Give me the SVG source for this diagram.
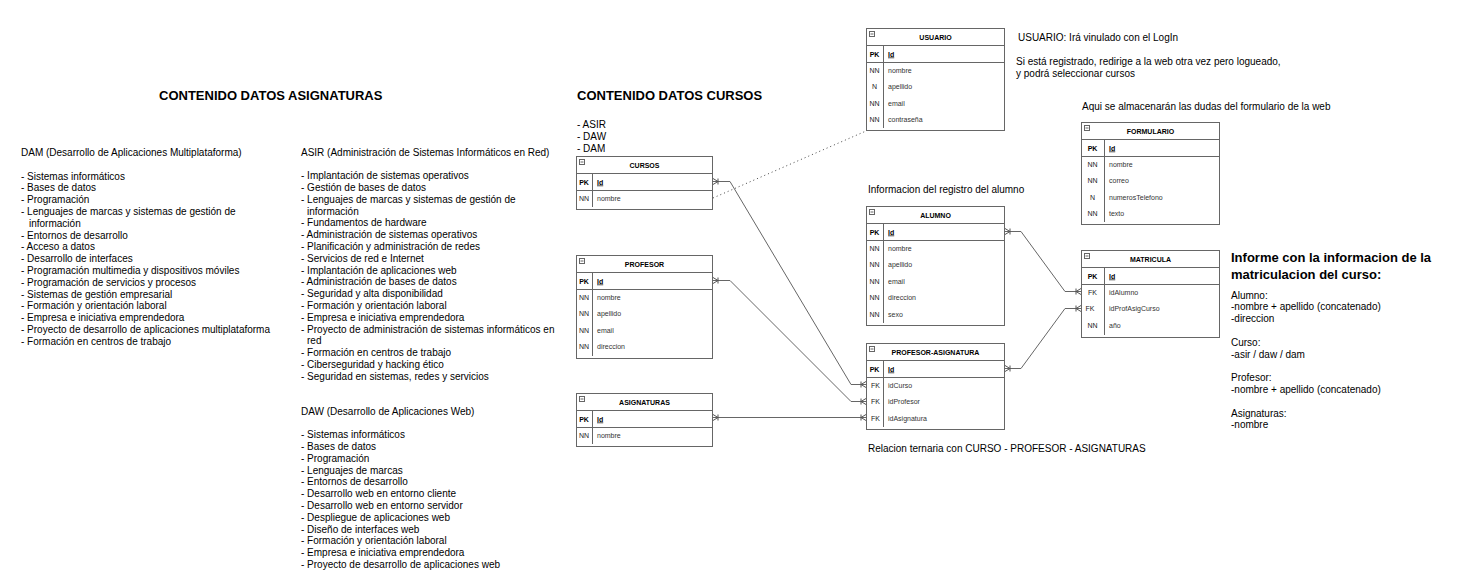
<svg xmlns="http://www.w3.org/2000/svg" width="1466" height="585" viewBox="0 0 1466 585">
<style>
text{font-family:"Liberation Sans",Arial,sans-serif;fill:#000}
.box{fill:#fff;stroke:#666;stroke-width:1}
.ln{stroke:#666;stroke-width:1;fill:none}
.th{font-size:7px;font-weight:bold;text-anchor:middle}
.k{font-size:7px;text-anchor:middle;fill:#222}
.kb{font-size:7px;font-weight:bold;text-anchor:middle}
.f{font-size:7px;fill:#333}
.pk{font-size:7px;font-weight:bold;text-decoration:underline}
.t10{font-size:10px}
.h13{font-size:13px;font-weight:bold}
.con{stroke:#666;stroke-width:1;fill:none;marker-start:url(#er);marker-end:url(#er)}
.dot{stroke:#444;stroke-width:1;fill:none;stroke-dasharray:1 3}
</style>
<defs>
<marker id="er" viewBox="-7 -4 8 8" refX="0" refY="0" markerWidth="8" markerHeight="8" markerUnits="userSpaceOnUse" orient="auto-start-reverse">
<path d="M-5,-3 L-5,3 M-5,0 L0,-3 M-5,0 L0,3" stroke="#555" stroke-width="1" fill="none"/>
</marker>
</defs>

<g id="texts">
<text class="h13" x="159" y="99.5">CONTENIDO DATOS ASIGNATURAS</text>
<text class="h13" x="577" y="99.5">CONTENIDO DATOS CURSOS</text>
<text class="t10"><tspan x="577" y="127.5">- ASIR</tspan><tspan x="577" y="139.5">- DAW</tspan><tspan x="577" y="151.5">- DAM</tspan></text>

<text class="t10">
<tspan x="21" y="156">DAM (Desarrollo de Aplicaciones Multiplataforma)</tspan>
<tspan x="21" y="179.6">- Sistemas informáticos</tspan>
<tspan x="21" y="191.4">- Bases de datos</tspan>
<tspan x="21" y="203.2">- Programación</tspan>
<tspan x="21" y="215">- Lenguajes de marcas y sistemas de gestión de</tspan>
<tspan x="29" y="226.8">información</tspan>
<tspan x="21" y="238.6">- Entornos de desarrollo</tspan>
<tspan x="21" y="250.4">- Acceso a datos</tspan>
<tspan x="21" y="262.2">- Desarrollo de interfaces</tspan>
<tspan x="21" y="274">- Programación multimedia y dispositivos móviles</tspan>
<tspan x="21" y="285.8">- Programación de servicios y procesos</tspan>
<tspan x="21" y="297.6">- Sistemas de gestión empresarial</tspan>
<tspan x="21" y="309.4">- Formación y orientación laboral</tspan>
<tspan x="21" y="321.2">- Empresa e iniciativa emprendedora</tspan>
<tspan x="21" y="333">- Proyecto de desarrollo de aplicaciones multiplataforma</tspan>
<tspan x="21" y="344.8">- Formación en centros de trabajo</tspan>
</text>

<text class="t10">
<tspan x="301" y="155.5">ASIR (Administración de Sistemas Informáticos en Red)</tspan>
<tspan x="301" y="179.1">- Implantación de sistemas operativos</tspan>
<tspan x="301" y="190.9">- Gestión de bases de datos</tspan>
<tspan x="301" y="202.7">- Lenguajes de marcas y sistemas de gestión de</tspan>
<tspan x="307" y="214.5">información</tspan>
<tspan x="301" y="226.3">- Fundamentos de hardware</tspan>
<tspan x="301" y="238.1">- Administración de sistemas operativos</tspan>
<tspan x="301" y="249.9">- Planificación y administración de redes</tspan>
<tspan x="301" y="261.7">- Servicios de red e Internet</tspan>
<tspan x="301" y="273.5">- Implantación de aplicaciones web</tspan>
<tspan x="301" y="285.3">- Administración de bases de datos</tspan>
<tspan x="301" y="297.1">- Seguridad y alta disponibilidad</tspan>
<tspan x="301" y="308.9">- Formación y orientación laboral</tspan>
<tspan x="301" y="320.7">- Empresa e iniciativa emprendedora</tspan>
<tspan x="301" y="332.5">- Proyecto de administración de sistemas informáticos en</tspan>
<tspan x="307" y="344.3">red</tspan>
<tspan x="301" y="356.1">- Formación en centros de trabajo</tspan>
<tspan x="301" y="367.9">- Ciberseguridad y hacking ético</tspan>
<tspan x="301" y="379.7">- Seguridad en sistemas, redes y servicios</tspan>
</text>

<text class="t10">
<tspan x="301" y="414.5">DAW (Desarrollo de Aplicaciones Web)</tspan>
<tspan x="301" y="438.1">- Sistemas informáticos</tspan>
<tspan x="301" y="449.9">- Bases de datos</tspan>
<tspan x="301" y="461.7">- Programación</tspan>
<tspan x="301" y="473.5">- Lenguajes de marcas</tspan>
<tspan x="301" y="485.3">- Entornos de desarrollo</tspan>
<tspan x="301" y="497.1">- Desarrollo web en entorno cliente</tspan>
<tspan x="301" y="508.9">- Desarrollo web en entorno servidor</tspan>
<tspan x="301" y="520.7">- Despliegue de aplicaciones web</tspan>
<tspan x="301" y="532.5">- Diseño de interfaces web</tspan>
<tspan x="301" y="544.3">- Formación y orientación laboral</tspan>
<tspan x="301" y="556.1">- Empresa e iniciativa emprendedora</tspan>
<tspan x="301" y="567.9">- Proyecto de desarrollo de aplicaciones web</tspan>
</text>

<text class="t10" x="1018" y="40.5">USUARIO: Irá vinulado con el LogIn</text>
<text class="t10"><tspan x="1016" y="64.5">Si está registrado, redirige a la web otra vez pero logueado,</tspan><tspan x="1016" y="76.5">y podrá seleccionar cursos</tspan></text>
<text class="t10" x="1082" y="109.5">Aqui se almacenarán las dudas del formulario de la web</text>
<text class="t10" x="868" y="192.5">Informacion del registro del alumno</text>
<text class="t10" x="868" y="451.5">Relacion ternaria con CURSO - PROFESOR - ASIGNATURAS</text>
<text class="h13"><tspan x="1231" y="261.5">Informe con la informacion de la</tspan><tspan x="1231" y="278.5">matriculacion del curso:</tspan></text>
<text class="t10">
<tspan x="1231" y="298.5">Alumno:</tspan>
<tspan x="1231" y="310.3">-nombre + apellido (concatenado)</tspan>
<tspan x="1231" y="322.1">-direccion</tspan>
<tspan x="1231" y="345.7">Curso:</tspan>
<tspan x="1231" y="357.5">-asir / daw / dam</tspan>
<tspan x="1231" y="381.1">Profesor:</tspan>
<tspan x="1231" y="392.9">-nombre + apellido (concatenado)</tspan>
<tspan x="1231" y="416.5">Asignaturas:</tspan>
<tspan x="1231" y="428.3">-nombre</tspan>
</text>
</g>

<g id="connectors">
<path class="dot" d="M713,198 L866,131"/>
<path class="con" d="M713,181.5 H730 L851,384.5 H866"/>
<path class="con" d="M713,280.5 H730 L851,401.5 H866"/>
<path class="con" d="M713,417.5 H866"/>
<path class="con" d="M1005,231.5 H1021 L1065,291.5 H1081"/>
<path class="con" d="M1005,368.5 H1021 L1065,308.5 H1081"/>
</g>

<g id="usuario" transform="translate(866,28)">
<rect class="box" x="0.5" y="0.5" width="138" height="102"/>
<path class="ln" d="M0.5,17.5 H138.5 M0.5,34.5 H138.5 M17.5,17.5 V100"/>
<rect class="box" x="3.5" y="3.5" width="5" height="5"/><path class="ln" d="M4.5,6 H7.5"/>
<text class="th" x="69.5" y="11.5">USUARIO</text>
<text class="kb" x="8.5" y="28.5">PK</text><text class="pk" x="22" y="28.5">Id</text>
<text class="k" x="8.5" y="44.75">NN</text><text class="f" x="22" y="44.75">nombre</text>
<text class="k" x="8.5" y="61.25">N</text><text class="f" x="22" y="61.25">apellido</text>
<text class="k" x="8.5" y="77.75">NN</text><text class="f" x="22" y="77.75">email</text>
<text class="k" x="8.5" y="94.25">NN</text><text class="f" x="22" y="94.25">contraseña</text>
</g>

<g id="cursos" transform="translate(576,156)">
<rect class="box" x="0.5" y="0.5" width="136" height="53"/>
<path class="ln" d="M0.5,17.5 H136.5 M0.5,34.5 H136.5 M16.5,17.5 V51"/>
<rect class="box" x="3.5" y="3.5" width="5" height="5"/><path class="ln" d="M4.5,6 H7.5"/>
<text class="th" x="68.5" y="11.5">CURSOS</text>
<text class="kb" x="8" y="28.5">PK</text><text class="pk" x="21" y="28.5">Id</text>
<text class="k" x="8" y="44.75">NN</text><text class="f" x="21" y="44.75">nombre</text>
</g>

<g id="profesor" transform="translate(576,255)">
<rect class="box" x="0.5" y="0.5" width="136" height="103"/>
<path class="ln" d="M0.5,17.5 H136.5 M0.5,34.5 H136.5 M16.5,17.5 V101"/>
<rect class="box" x="3.5" y="3.5" width="5" height="5"/><path class="ln" d="M4.5,6 H7.5"/>
<text class="th" x="68.5" y="11.5">PROFESOR</text>
<text class="kb" x="8" y="28.5">PK</text><text class="pk" x="21" y="28.5">Id</text>
<text class="k" x="8" y="44.75">NN</text><text class="f" x="21" y="44.75">nombre</text>
<text class="k" x="8" y="61.25">NN</text><text class="f" x="21" y="61.25">apellido</text>
<text class="k" x="8" y="77.75">NN</text><text class="f" x="21" y="77.75">email</text>
<text class="k" x="8" y="94.25">NN</text><text class="f" x="21" y="94.25">direccion</text>
</g>

<g id="asignaturas" transform="translate(576,393)">
<rect class="box" x="0.5" y="0.5" width="136" height="53"/>
<path class="ln" d="M0.5,17.5 H136.5 M0.5,34.5 H136.5 M16.5,17.5 V51"/>
<rect class="box" x="3.5" y="3.5" width="5" height="5"/><path class="ln" d="M4.5,6 H7.5"/>
<text class="th" x="68.5" y="11.5">ASIGNATURAS</text>
<text class="kb" x="8" y="28.5">PK</text><text class="pk" x="21" y="28.5">Id</text>
<text class="k" x="8" y="44.75">NN</text><text class="f" x="21" y="44.75">nombre</text>
</g>

<g id="alumno" transform="translate(866,206)">
<rect class="box" x="0.5" y="0.5" width="138" height="119"/>
<path class="ln" d="M0.5,17.5 H138.5 M0.5,34.5 H138.5 M17.5,17.5 V117"/>
<rect class="box" x="3.5" y="3.5" width="5" height="5"/><path class="ln" d="M4.5,6 H7.5"/>
<text class="th" x="69.5" y="11.5">ALUMNO</text>
<text class="kb" x="8.5" y="28.5">PK</text><text class="pk" x="22" y="28.5">Id</text>
<text class="k" x="8.5" y="44.75">NN</text><text class="f" x="22" y="44.75">nombre</text>
<text class="k" x="8.5" y="61.25">NN</text><text class="f" x="22" y="61.25">apellido</text>
<text class="k" x="8.5" y="77.75">NN</text><text class="f" x="22" y="77.75">email</text>
<text class="k" x="8.5" y="94.25">NN</text><text class="f" x="22" y="94.25">direccion</text>
<text class="k" x="8.5" y="110.75">NN</text><text class="f" x="22" y="110.75">sexo</text>
</g>

<g id="profesor-asignatura" transform="translate(866,343)">
<rect class="box" x="0.5" y="0.5" width="138" height="86"/>
<path class="ln" d="M0.5,17.5 H138.5 M0.5,34.5 H138.5 M17.5,17.5 V84"/>
<rect class="box" x="3.5" y="3.5" width="5" height="5"/><path class="ln" d="M4.5,6 H7.5"/>
<text class="th" x="69.5" y="11.5">PROFESOR-ASIGNATURA</text>
<text class="kb" x="8.5" y="28.5">PK</text><text class="pk" x="22" y="28.5">Id</text>
<text class="k" x="9.5" y="44.75">FK</text><text class="f" x="22" y="44.75">idCurso</text>
<text class="k" x="9.5" y="61.25">FK</text><text class="f" x="22" y="61.25">idProfesor</text>
<text class="k" x="9.5" y="77.75">FK</text><text class="f" x="22" y="77.75">idAsignatura</text>
</g>

<g id="formulario" transform="translate(1081,122)">
<rect class="box" x="0.5" y="0.5" width="138" height="102"/>
<path class="ln" d="M0.5,17.5 H138.5 M0.5,34.5 H138.5 M23.5,17.5 V100"/>
<rect class="box" x="3.5" y="3.5" width="5" height="5"/><path class="ln" d="M4.5,6 H7.5"/>
<text class="th" x="69.5" y="11.5">FORMULARIO</text>
<text class="kb" x="11.5" y="28.5">PK</text><text class="pk" x="28" y="28.5">Id</text>
<text class="k" x="11.5" y="44.75">NN</text><text class="f" x="28" y="44.75">nombre</text>
<text class="k" x="11.5" y="61.25">NN</text><text class="f" x="28" y="61.25">correo</text>
<text class="k" x="11.5" y="77.75">N</text><text class="f" x="28" y="77.75">numerosTelefono</text>
<text class="k" x="11.5" y="94.25">NN</text><text class="f" x="28" y="94.25">texto</text>
</g>

<g id="matricula" transform="translate(1081,250)">
<rect class="box" x="0.5" y="0.5" width="138" height="87"/>
<path class="ln" d="M0.5,17.5 H138.5 M0.5,34.5 H138.5 M23.5,17.5 V85"/>
<rect class="box" x="3.5" y="3.5" width="5" height="5"/><path class="ln" d="M4.5,6 H7.5"/>
<text class="th" x="69.5" y="11.5">MATRICULA</text>
<text class="kb" x="11.5" y="28.5">PK</text><text class="pk" x="28" y="28.5">Id</text>
<text class="k" x="11.5" y="44.75">FK</text><text class="f" x="28" y="44.75">idAlumno</text>
<text class="k" x="9" y="61.25">FK</text><text class="f" x="28" y="61.25">idProfAsigCurso</text>
<text class="k" x="11.5" y="77.75">NN</text><text class="f" x="28" y="77.75">año</text>
</g>
</svg>
